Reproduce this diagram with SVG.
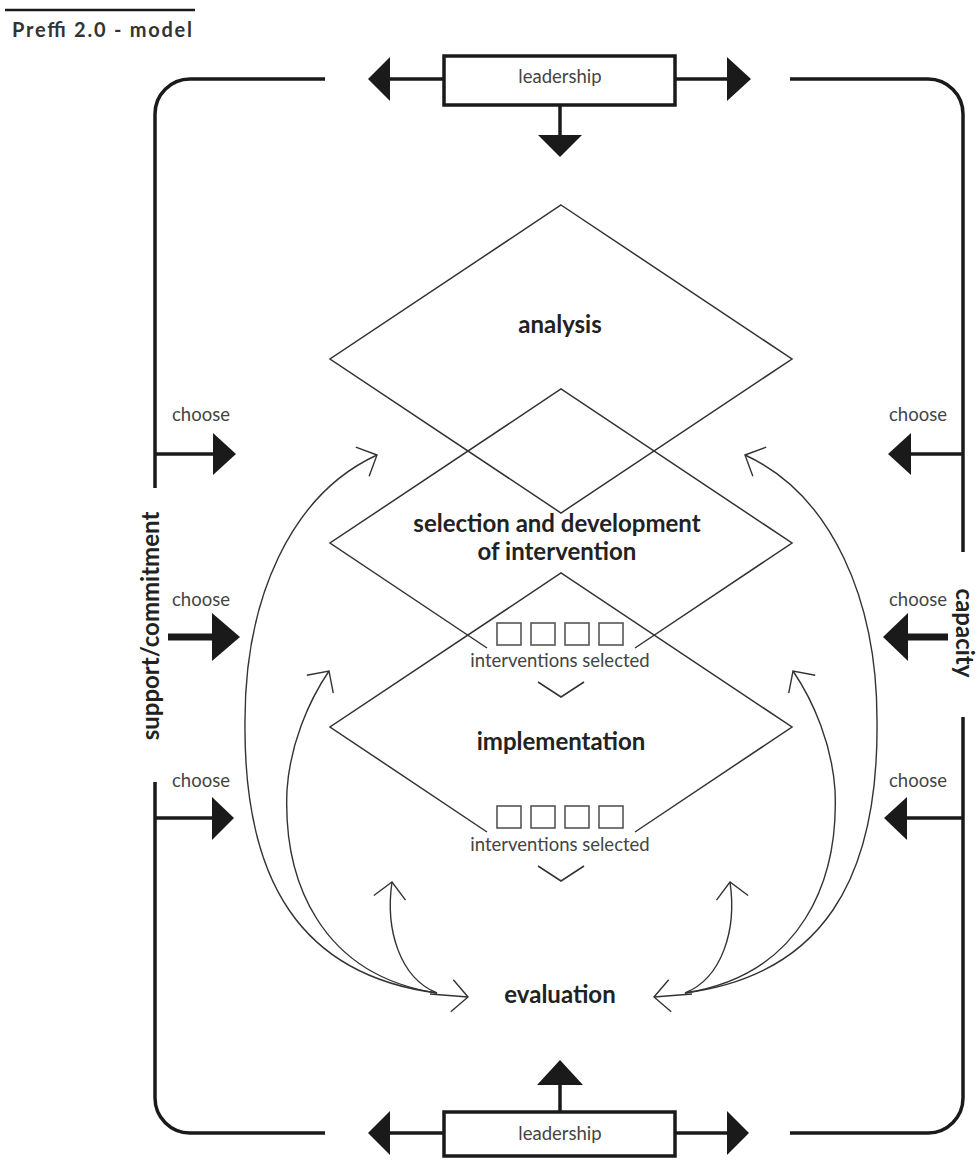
<svg xmlns="http://www.w3.org/2000/svg" width="979" height="1160" viewBox="0 0 979 1160">
<style>
.frame{fill:none;stroke:#1a1a1a;stroke-width:3.5}
.stub{stroke:#1a1a1a;stroke-width:3.5}
.stubw{stroke:#1a1a1a;stroke-width:7}
.tri{fill:#1a1a1a}
.box{fill:#fff;stroke:#1a1a1a;stroke-width:3.5}
.dia{fill:none;stroke:#333;stroke-width:1.5;stroke-linejoin:miter}
.sq{fill:#fff;stroke:#555;stroke-width:1.6}
.curve{fill:none;stroke:#333;stroke-width:1.4}
.big{font-family:Lato,"Open Sans",sans-serif;font-weight:700;font-size:24px;fill:#222;text-anchor:middle}
.small{font-family:Lato,"Open Sans",sans-serif;font-size:18.5px;fill:#444}
.mid{text-anchor:middle}
</style>
<defs>
<marker id="open" markerUnits="userSpaceOnUse" markerWidth="40" markerHeight="40" viewBox="-20 -20 40 40" refX="0" refY="0" orient="auto">
<path d="M-16,-16 L0,0 L-16,16" fill="none" stroke="#333" stroke-width="1.4"/>
</marker>
</defs>
<rect width="979" height="1160" fill="#fff"/>

<g id="title">
<line x1="5" y1="10" x2="195" y2="10" stroke="#1a1a1a" stroke-width="2.5"/>
<text x="12" y="37" font-family="Lato,'Open Sans',sans-serif" font-weight="700" font-size="20" fill="#333" textLength="180">Preffi 2.0 - model</text>
</g>

<g id="frame">
<path class="frame" d="M325,79 H190 A35,35 0 0 0 155,114 V488"/>
<path class="frame" d="M155,782 V1098 A35,35 0 0 0 190,1133 H325"/>
<path class="frame" d="M790,79 H928 A35,35 0 0 1 963,114 V552"/>
<path class="frame" d="M963,717 V1098 A35,35 0 0 1 928,1133 H790"/>
</g>

<g id="leadership-top">
<line class="stub" x1="388" y1="79" x2="445" y2="79"/>
<polygon class="tri" points="390,57 368,79 390,101"/>
<line class="stub" x1="675" y1="79" x2="728" y2="79"/>
<polygon class="tri" points="727,57 751,79 727,101"/>
<line class="stub" x1="560" y1="105" x2="560" y2="136"/>
<polygon class="tri" points="538,135 560,157 582,135"/>
<rect class="box" x="444" y="56" width="231" height="49"/>
<text class="small mid" x="560" y="83">leadership</text>
</g>

<g id="leadership-bottom">
<line class="stub" x1="388" y1="1133" x2="445" y2="1133"/>
<polygon class="tri" points="390,1111 368,1133 390,1155"/>
<line class="stub" x1="675" y1="1133" x2="728" y2="1133"/>
<polygon class="tri" points="727,1111 749,1133 727,1155"/>
<line class="stub" x1="560" y1="1084" x2="560" y2="1112"/>
<polygon class="tri" points="537,1085 560,1060 583,1085"/>
<rect class="box" x="444" y="1112" width="231" height="44"/>
<text class="small mid" x="560" y="1140">leadership</text>
</g>

<g id="support-commitment">
<text class="big" font-size="26.5" transform="translate(159,626) rotate(-90)">support/commitment</text>
<text class="small" x="172" y="421">choose</text>
<line class="stub" x1="155" y1="454" x2="214" y2="454"/>
<polygon class="tri" points="213,433 236,454 213,475"/>
<text class="small" x="172" y="606">choose</text>
<line class="stubw" x1="168" y1="637" x2="214" y2="637"/>
<polygon class="tri" points="212,613 240,637 212,661"/>
<text class="small" x="172" y="787">choose</text>
<line class="stub" x1="155" y1="818" x2="213" y2="818"/>
<polygon class="tri" points="212,797 234,818 212,840"/>
</g>

<g id="capacity">
<text class="big" font-size="27" transform="translate(956,633) rotate(90)">capacity</text>
<text class="small" x="889" y="421">choose</text>
<line class="stub" x1="963" y1="454" x2="910" y2="454"/>
<polygon class="tri" points="911,433 888,454 911,475"/>
<text class="small" x="889" y="606">choose</text>
<line class="stubw" x1="948" y1="637" x2="906" y2="637"/>
<polygon class="tri" points="908,613 883,637 908,661"/>
<text class="small" x="889" y="787">choose</text>
<line class="stub" x1="963" y1="818" x2="905" y2="818"/>
<polygon class="tri" points="907,797 884,818 907,840"/>
</g>

<g id="analysis">
<polygon class="dia" points="561,205 792,359 561,513 330,359"/>
<text class="big" x="560" y="333">analysis</text>
</g>

<g id="selection">
<path class="dia" d="M487,648 L330,543 L561,389 L792,543 L635,648 M538,682 L561,697 L584,682"/>
<text class="big" x="557" y="532">selection and development</text>
<text class="big" x="557" y="560">of intervention</text>
<rect class="sq" x="497" y="623" width="24" height="22"/>
<rect class="sq" x="531" y="623" width="24" height="22"/>
<rect class="sq" x="565" y="623" width="24" height="22"/>
<rect class="sq" x="599" y="623" width="24" height="22"/>
<text class="small mid" x="560" y="667">interventions selected</text>
</g>

<g id="implementation">
<path class="dia" d="M487,832 L330,727 L561,573 L792,727 L635,832 M538,866 L561,881 L584,866"/>
<text class="big" x="561" y="750">implementation</text>
<rect class="sq" x="497" y="806" width="24" height="22"/>
<rect class="sq" x="531" y="806" width="24" height="22"/>
<rect class="sq" x="565" y="806" width="24" height="22"/>
<rect class="sq" x="599" y="806" width="24" height="22"/>
<text class="small mid" x="560" y="851">interventions selected</text>
</g>

<g id="evaluation">
<text class="big" x="560" y="1003">evaluation</text>
</g>

<g id="connectors">
<path class="curve" marker-end="url(#open)" d="M437,993 C300,975 243,880 245,720 C245,600 290,495 377,455"/>
<path class="curve" marker-end="url(#open)" d="M437,993 C320,975 283,880 287,790 C290,745 308,702 329,671"/>
<path class="curve" marker-end="url(#open)" d="M437,993 C400,978 385,930 392,882"/>
<path class="curve" marker-end="url(#open)" d="M430,994 L468,997"/>
<path class="curve" marker-end="url(#open)" d="M685,993 C822,975 879,880 877,720 C877,600 832,495 745,455"/>
<path class="curve" marker-end="url(#open)" d="M685,993 C802,975 839,880 835,790 C832,745 814,702 793,671"/>
<path class="curve" marker-end="url(#open)" d="M685,993 C722,978 737,930 730,882"/>
<path class="curve" marker-end="url(#open)" d="M692,994 L654,997"/>
</g>
</svg>
